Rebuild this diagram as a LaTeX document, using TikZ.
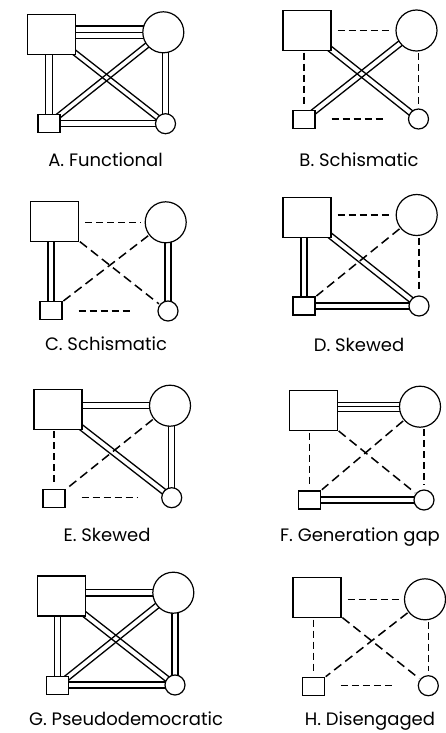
\documentclass[tikz,border=0pt]{standalone}
\usepackage{fontspec}
\setmainfont{Poppins}
\usetikzlibrary{calc,backgrounds}

% two parallel strokes between two points, #1 = half the gap
\newcommand\pairline[3]{%
  \draw[rel] ($(#2)!#1!90:(#3)$) -- ($(#3)!#1!-90:(#2)$);
  \draw[rel] ($(#2)!#1!-90:(#3)$) -- ($(#3)!#1!90:(#2)$);}
% three parallel strokes
\newcommand\trioline[3]{\pairline{#1}{#2}{#3}\draw[rel] (#2) -- (#3);}

\tikzset{
  member/.style={draw, fill=white, line width=1.2pt, inner sep=0pt},
  bigsq/.style={member, rectangle, minimum width=48pt, minimum height=40pt},
  smsq/.style={member, rectangle, minimum width=22pt, minimum height=18pt},
  bigci/.style={member, circle, minimum size=41pt},
  smci/.style={member, circle, minimum size=20pt},
  rel/.style={line width=1.3pt},
  gapline/.style={line width=1.5pt, dash pattern=on 7pt off 4pt},
  gaptop/.style={gapline, shorten <=6pt, shorten >=4pt},
  gapside/.style={gapline, shorten <=1.5pt, shorten >=4pt},
  gapbot/.style={gapline, shorten <=16pt, shorten >=24pt},
  gapdiag/.style={line width=1.5pt, dash pattern=on 9pt off 5pt, shorten <=1pt, shorten >=1pt},
  lab/.style={anchor=base, inner sep=0pt, font=\fontsize{18}{21}\selectfont}
}

\begin{document}
\begin{tikzpicture}[x=1pt, y=-1pt]
\useasboundingbox (0,0) rectangle (446,733);

% ---------- A. Functional ----------
\node[bigsq] (Abs) at (51.5,34.5) {};
\node[bigci] (Abc) at (163.3,32.3) {};
\node[smsq] (Ass) at (49,123.5) {};
\node[smci] (Asc) at (165.5,123.7) {};
\node[lab] (Alab) at (105.5,166) {A. Functional};
\begin{pgfonlayer}{background}
  \trioline{6.3pt}{Abs |- Abc}{Abc}
  \pairline{3.3pt}{Ass}{Ass |- Abs}
  \pairline{2.6pt}{Abs}{Asc}
  \pairline{2.6pt}{Abc}{Ass}
  \pairline{3pt}{Asc}{Asc |- Abc}
  \pairline{3pt}{Ass |- Asc}{Asc}
\end{pgfonlayer}

% ---------- B. Schismatic ----------
\node[bigsq] (Bbs) at (307,30.5) {};
\node[bigci] (Bbc) at (416.5,30.5) {};
\node[smsq] (Bss) at (304,119.5) {};
\node[smci] (Bsc) at (418.5,119) {};
\node[lab] (Blab) at (359,166) {B. Schismatic};
\begin{pgfonlayer}{background}
  \draw[gaptop] (Bbs.east |- Bbc) -- (Bbc.west);
  \draw[gapside] (Bbs.south -| Bss) -- (Bss.north);
  \draw[gapside] (Bbc.south -| Bsc) -- (Bsc.north);
  \draw[gapbot] (Bss.east |- Bsc) -- (Bsc.west);
  \pairline{2.8pt}{Bbs}{Bsc}
  \pairline{2.8pt}{Bbc}{Bss}
\end{pgfonlayer}

% ---------- C. Schismatic ----------
\node[bigsq] (Cbs) at (54.5,221.7) {};
\node[bigci] (Cbc) at (165.7,222.3) {};
\node[smsq] (Css) at (51,310.5) {};
\node[smci] (Csc) at (168,311) {};
\node[lab] (Clab) at (106,350) {C. Schismatic};
\begin{pgfonlayer}{background}
  \draw[gaptop] (Cbs.east |- Cbc) -- (Cbc.west);
  \pairline{3pt}{Css}{Css |- Cbs}
  \pairline{3pt}{Csc}{Csc |- Cbc}
  \draw[gapbot] (Css.east |- Csc) -- (Csc.west);
  \draw[gapdiag] (Cbs) -- (Csc);
  \draw[gapdiag] (Cbc) -- (Css);
\end{pgfonlayer}

% ---------- D. Skewed ----------
\node[bigsq] (Dbs) at (307,217.3) {};
\node[bigci] (Dbc) at (416.7,215) {};
\node[smsq] (Dss) at (304,306) {};
\node[smci] (Dsc) at (419,306) {};
\node[lab] (Dlab) at (359,351) {D. Skewed};
\begin{pgfonlayer}{background}
  \draw[gaptop] (Dbs.east |- Dbc) -- (Dbc.west);
  \pairline{3pt}{Dss}{Dss |- Dbs}
  \draw[gapside] (Dbc.south -| Dsc) -- (Dsc.north);
  \pairline{3pt}{Dss |- Dsc}{Dsc}
  \pairline{2.8pt}{Dbs}{Dsc}
  \draw[gapdiag] (Dbc) -- (Dss);
\end{pgfonlayer}

% ---------- E. Skewed ----------
\node[bigsq] (Ebs) at (58,409.3) {};
\node[bigci] (Ebc) at (170,405.7) {};
\node[smsq] (Ess) at (54,498.7) {};
\node[smci] (Esc) at (171.7,497.7) {};
\node[lab] (Elab) at (107,541) {E. Skewed};
\begin{pgfonlayer}{background}
  \pairline{3pt}{Ebs |- Ebc}{Ebc}
  \draw[gapside] (Ebs.south -| Ess) -- (Ess.north);
  \pairline{3pt}{Esc}{Esc |- Ebc}
  \draw[gapbot] (Ess.east |- Esc) -- (Esc.west);
  \pairline{2.8pt}{Ebs}{Esc}
  \draw[gapdiag] (Ebc) -- (Ess);
\end{pgfonlayer}

% ---------- F. Generation gap ----------
\node[bigsq] (Fbs) at (313.3,410.5) {};
\node[bigci] (Fbc) at (420,406.7) {};
\node[smsq] (Fss) at (309.7,500) {};
\node[smci] (Fsc) at (424,500) {};
\node[lab] (Flab) at (360,541) {F. Generation gap};
\begin{pgfonlayer}{background}
  \trioline{4.5pt}{Fbs |- Fbc}{Fbc}
  \draw[gapside] (Fbs.south -| Fss) -- (Fss.north);
  \draw[gapside] (Fbc.south -| Fsc) -- (Fsc.north);
  \pairline{3pt}{Fss |- Fsc}{Fsc}
  \draw[gapdiag] (Fbs) -- (Fsc);
  \draw[gapdiag] (Fbc) -- (Fss);
\end{pgfonlayer}

% ---------- G. Pseudodemocratic ----------
\node[bigsq] (Gbs) at (61.2,596) {};
\node[bigci] (Gbc) at (173.3,592.7) {};
\node[smsq] (Gss) at (57.5,685.5) {};
\node[smci] (Gsc) at (175,685) {};
\node[lab] (Glab) at (126,725.5) {G. Pseudodemocratic};
\begin{pgfonlayer}{background}
  \pairline{3.3pt}{Gbs |- Gbc}{Gbc}
  \pairline{3.3pt}{Gss}{Gss |- Gbs}
  \pairline{2.8pt}{Gbs}{Gsc}
  \pairline{2.8pt}{Gbc}{Gss}
  \pairline{3pt}{Gsc}{Gsc |- Gbc}
  \pairline{3pt}{Gss |- Gsc}{Gsc}
\end{pgfonlayer}

% ---------- H. Disengaged ----------
\node[bigsq] (Hbs) at (317,597.5) {};
\node[bigci] (Hbc) at (425,599.3) {};
\node[smsq] (Hss) at (313.3,686.3) {};
\node[smci] (Hsc) at (428.3,685.7) {};
\node[lab] (Hlab) at (370,725.5) {H. Disengaged};
\begin{pgfonlayer}{background}
  \draw[gaptop] (Hbs.east |- Hbc) -- (Hbc.west);
  \draw[gapside] (Hbs.south -| Hss) -- (Hss.north);
  \draw[gapside] (Hbc.south -| Hsc) -- (Hsc.north);
  \draw[gapbot] (Hss.east |- Hsc) -- (Hsc.west);
  \draw[gapdiag] (Hbs) -- (Hsc);
  \draw[gapdiag] (Hbc) -- (Hss);
\end{pgfonlayer}
\end{tikzpicture}
\end{document}
